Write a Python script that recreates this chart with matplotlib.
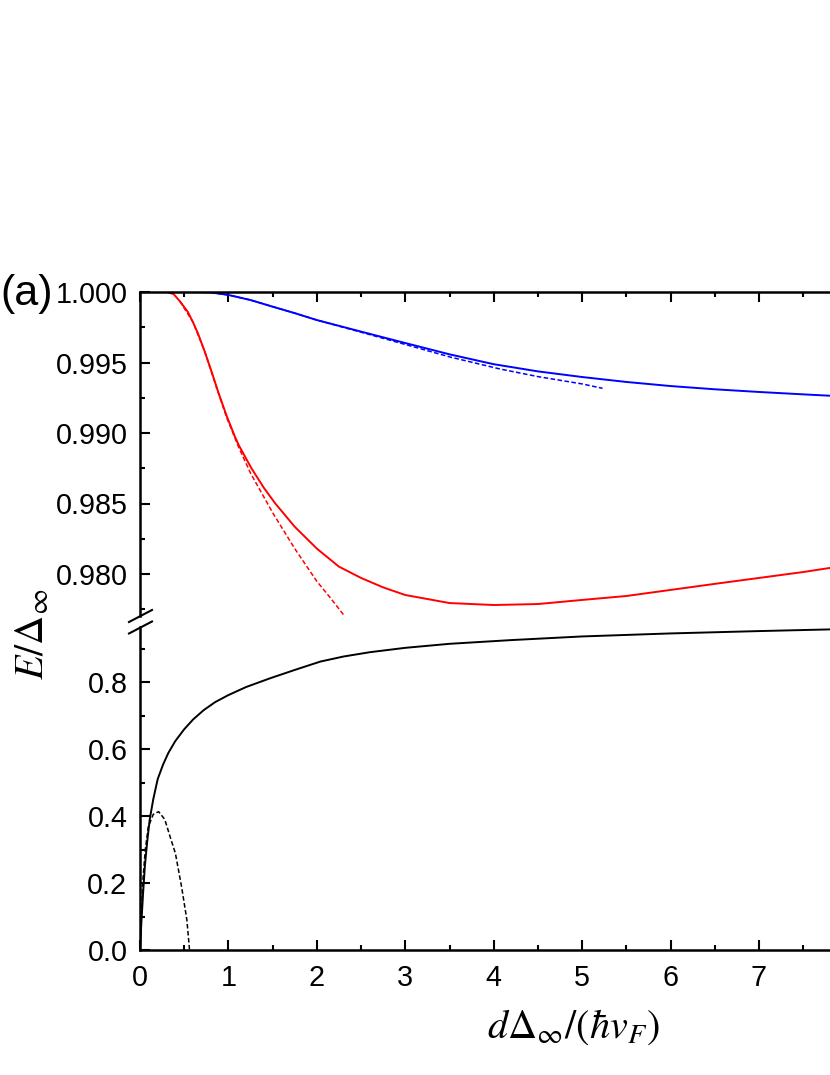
import matplotlib
matplotlib.use('Agg')
import matplotlib.pyplot as plt
from matplotlib.lines import Line2D
from matplotlib.ticker import MultipleLocator, FormatStrFormatter

plt.rcParams['font.family'] = ['Liberation Sans', 'DejaVu Sans']
plt.rcParams['mathtext.fontset'] = 'stix'

# Datos leidos de la figura
# curva azul (solida) y su aproximacion (discontinua)
x_azul = [0, 0.6, 0.8, 1.0, 1.25, 1.5, 1.75, 2.0, 2.5, 3.0, 3.5, 4.0, 4.5, 5.0, 5.5, 6.0,
          6.5, 7.0, 7.5, 8.0]
y_azul = [1.0, 1.0, 0.99997, 0.99979, 0.99943, 0.99896, 0.99850, 0.99801, 0.99719, 0.99638,
          0.99558, 0.99488, 0.99437, 0.99397, 0.99362, 0.99333, 0.99310, 0.99291, 0.99274,
          0.99258]
x_azul_aprox = [0, 0.6, 0.8, 1.0, 1.25, 1.5, 1.75, 2.0, 2.5, 3.0, 3.5, 4.07, 4.5, 5.0, 5.23]
y_azul_aprox = [1.0, 1.0, 0.99997, 0.99979, 0.99943, 0.99896, 0.99850, 0.99801, 0.99715,
                0.99628, 0.9954, 0.99454, 0.9940, 0.99348, 0.99317]

# curva roja (solida) y su aproximacion (discontinua)
x_roja = [0, 0.3, 0.38, 0.45, 0.54, 0.6, 0.656, 0.733, 0.809, 0.885, 0.98, 1.076, 1.12,
          1.26, 1.4, 1.53, 1.75, 2.0, 2.25, 2.5, 2.75, 3.0, 3.5, 4.0, 4.5, 5.0, 5.5, 6.0,
          6.5, 7.0, 7.5, 8.0]
y_roja = [1.0, 1.0, 0.99985, 0.99935, 0.99860, 0.99785, 0.99705, 0.99576, 0.99436, 0.99290,
          0.99121, 0.98970, 0.98910, 0.98750, 0.98612, 0.98500, 0.98335, 0.98180, 0.98052,
          0.97972, 0.97905, 0.97851, 0.97794, 0.97780, 0.97787, 0.97816, 0.97844, 0.97887,
          0.97930, 0.97972, 0.98014, 0.98062]
x_roja_aprox = [0.45, 0.6, 0.733, 0.885, 0.98, 1.115, 1.25, 1.5, 1.75, 2.0, 2.15, 2.3]
y_roja_aprox = [0.99935, 0.99785, 0.99576, 0.99285, 0.99110, 0.98900, 0.98715, 0.98435,
                0.98180, 0.97948, 0.97833, 0.97712]

# curva negra (panel inferior)
x_negra = [0, 0.015, 0.035, 0.055, 0.08, 0.11, 0.15, 0.2, 0.26, 0.32, 0.4, 0.5, 0.6, 0.72,
           0.85, 1.0, 1.2, 1.47, 1.75, 2.04, 2.3, 2.6, 3.0, 3.5, 4.19, 5.0, 6.0, 7.0, 7.8, 8.0]
y_negra = [0.0, 0.08, 0.17, 0.25, 0.32, 0.39, 0.45, 0.51, 0.553, 0.588, 0.624, 0.659, 0.688,
           0.716, 0.74, 0.761, 0.785, 0.811, 0.836, 0.861, 0.876, 0.889, 0.902, 0.914,
           0.925, 0.936, 0.945, 0.952, 0.957, 0.958]
x_negra_aprox = [0, 0.03, 0.06, 0.094, 0.15, 0.21, 0.28, 0.35, 0.40, 0.47, 0.53, 0.56]
y_negra_aprox = [0.0, 0.20, 0.30, 0.368, 0.405, 0.413, 0.39, 0.33, 0.289, 0.189, 0.09, 0.0]

xticks = [0, 1, 2, 3, 4, 5, 6, 7]

fig = plt.figure(figsize=(8.3, 10.75), dpi=100)
W, H = 830.0, 1075.0
x0 = 140 / W
ancho = 8 * 88.43 / W
ax_sup = fig.add_axes([x0, 1 - 616 / H, ancho, 324 / H])
ax_inf = fig.add_axes([x0, 1 - 950 / H, ancho, 323 / H])

lw_sol = 1.4
lw_dash = 1.1
ax_sup.plot(x_azul, y_azul, color='blue', lw=lw_sol)
ax_sup.plot(x_azul_aprox, y_azul_aprox, color='blue', lw=lw_dash, dashes=(3, 1.6))
ax_sup.plot(x_roja, y_roja, color='red', lw=lw_sol)
ax_sup.plot(x_roja_aprox, y_roja_aprox, color='red', lw=lw_dash, dashes=(3, 1.6))
ax_inf.plot(x_negra, y_negra, color='black', lw=lw_sol)
ax_inf.plot(x_negra_aprox, y_negra_aprox, color='black', lw=lw_dash, dashes=(3, 1.6))

ax_sup.set_xlim(0, 8)
ax_inf.set_xlim(0, 8)
ax_sup.set_ylim(1 - 324 / 70.5 * 0.005, 1.0)
ax_inf.set_ylim(0, 323 / 335.0)

for ax in (ax_sup, ax_inf):
    for s in ax.spines.values():
        s.set_linewidth(1.8)
    ax.spines['right'].set_visible(False)
    ax.set_xticks(xticks)
    ax.xaxis.set_minor_locator(MultipleLocator(0.5))
    ax.tick_params(which='both', direction='in', width=1.5, labelsize=20.7)
    ax.tick_params(which='major', length=7)
    ax.tick_params(which='minor', length=3.6)
    ax.tick_params(axis='y', pad=9)
    ax.tick_params(axis='x', pad=10)

ax_sup.spines['bottom'].set_visible(False)
ax_sup.tick_params(axis='x', which='both', bottom=False, top=True, labelbottom=False)
ax_sup.yaxis.set_minor_locator(MultipleLocator(0.0025))
ax_sup.set_yticks([0.980, 0.985, 0.990, 0.995, 1.000])
ax_sup.yaxis.set_major_formatter(FormatStrFormatter('%.3f'))

ax_inf.spines['top'].set_visible(False)
ax_inf.tick_params(axis='x', which='both', top=False)
ax_inf.yaxis.set_major_locator(MultipleLocator(0.2))
ax_inf.yaxis.set_minor_locator(MultipleLocator(0.1))
ax_inf.yaxis.set_major_formatter(FormatStrFormatter('%.1f'))

# marcas de corte del eje
for yc in (616, 627.5):
    fig.add_artist(Line2D([129 / W, 152 / W], [1 - (yc + 6) / H, 1 - (yc - 6) / H],
                          color='black', lw=1.5, transform=fig.transFigure))

fig.text(0 / W, 1 - 294 / H, '(a)', fontsize=31, va='center', ha='left')
fig.text(33 / W, 1 - 634 / H, r'$E/\Delta_{\infty}$', fontsize=29, rotation=90,
         va='center', ha='center')
fig.text(573 / W, 1 - 1027 / H, r'$d\Delta_{\infty}/(\hbar v_F)$', fontsize=29,
         va='center', ha='center')

fig.savefig('out.png', dpi=100)
